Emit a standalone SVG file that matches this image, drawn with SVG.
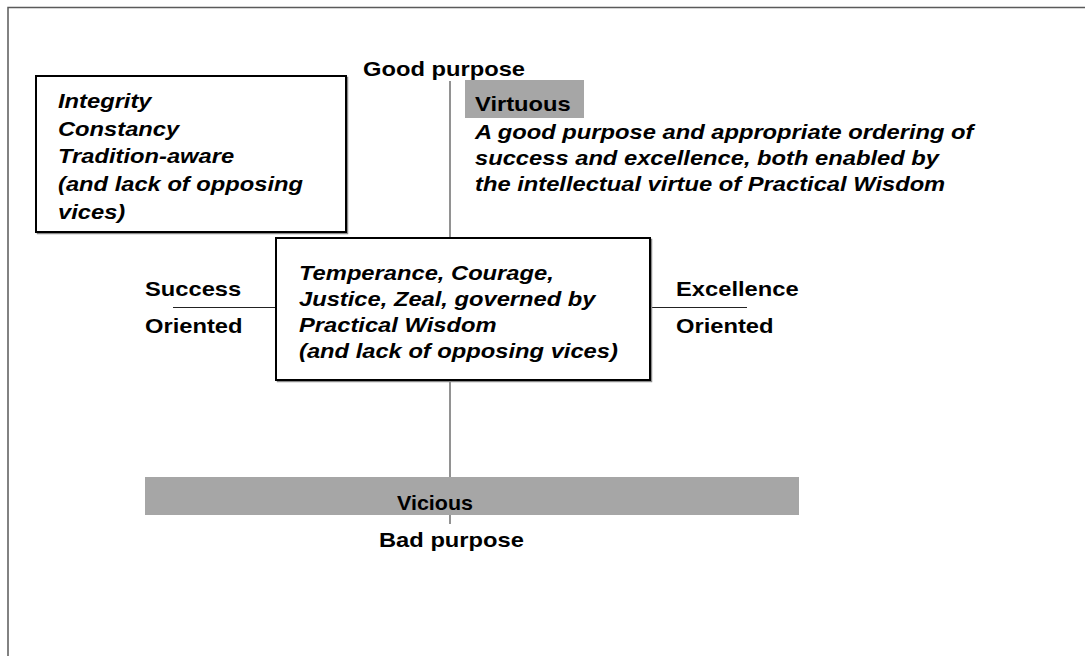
<svg xmlns="http://www.w3.org/2000/svg" width="1085" height="656" viewBox="0 0 1085 656">
  <style>
    text { font-family: "Liberation Sans", Arial, sans-serif; font-weight: bold; font-size: 21px; fill: #000; }
    .it { font-style: italic; }
    .box { fill: #fff; stroke: #000; stroke-width: 2; }
    .shadow { fill: none; stroke: #8a8a8a; stroke-width: 1.5; }
    .band { fill: #a6a6a6; stroke: none; }
    .axis { stroke: #6e6e6e; stroke-width: 1.5; fill: none; }
    .tick { stroke: #222; stroke-width: 1.2; fill: none; }
  </style>
  <rect width="1085" height="656" fill="#fff"/>
  <rect id="frame" x="8" y="7.5" width="1100" height="680" fill="none" stroke="#5a5a5a" stroke-width="1.5"/>

  <g id="connectors">
    <line class="axis" x1="450" y1="81" x2="450" y2="238"/>
    <line class="axis" x1="450" y1="380" x2="450" y2="477"/>
    <line class="axis" x1="450" y1="515" x2="450" y2="524"/>
    <line class="tick" x1="173" y1="307.5" x2="276" y2="307.5"/>
    <line class="tick" x1="650" y1="307.5" x2="747" y2="307.5"/>
  </g>

  <g id="good-purpose">
    <text transform="matrix(1.13 0 0 1 363 76)">Good purpose</text>
  </g>

  <g id="traits-box">
    <rect class="shadow" x="37.5" y="77.5" width="310" height="156"/>
    <rect class="box" x="36" y="76" width="310" height="156"/>
    <text class="it" transform="matrix(1.13 0 0 1 58 108)">Integrity</text>
    <text class="it" transform="matrix(1.13 0 0 1 58 135.7)">Constancy</text>
    <text class="it" transform="matrix(1.13 0 0 1 58 163.4)">Tradition-aware</text>
    <text class="it" transform="matrix(1.13 0 0 1 58 191)">(and lack of opposing</text>
    <text class="it" transform="matrix(1.13 0 0 1 58 218.7)">vices)</text>
  </g>

  <g id="virtuous">
    <rect class="band" x="465" y="80" width="119" height="38"/>
    <text transform="matrix(1.13 0 0 1 475 111)">Virtuous</text>
    <text class="it" transform="matrix(1.13 0 0 1 475 139)">A good purpose and appropriate ordering of</text>
    <text class="it" transform="matrix(1.13 0 0 1 475 165)">success and excellence, both enabled by</text>
    <text class="it" transform="matrix(1.13 0 0 1 475 191)">the intellectual virtue of Practical Wisdom</text>
  </g>

  <g id="center-box">
    <rect class="shadow" x="277.5" y="239.5" width="374" height="142"/>
    <rect class="box" x="276" y="238" width="374" height="142"/>
    <text class="it" transform="matrix(1.13 0 0 1 299 279.5)">Temperance, Courage,</text>
    <text class="it" transform="matrix(1.13 0 0 1 299 305.8)">Justice, Zeal, governed by</text>
    <text class="it" transform="matrix(1.13 0 0 1 299 332.1)">Practical Wisdom</text>
    <text class="it" transform="matrix(1.13 0 0 1 299 358.4)">(and lack of opposing vices)</text>
  </g>

  <g id="success">
    <text transform="matrix(1.13 0 0 1 145 296)">Success</text>
    <text transform="matrix(1.13 0 0 1 145 333)">Oriented</text>
  </g>

  <g id="excellence">
    <text transform="matrix(1.13 0 0 1 676 296)">Excellence</text>
    <text transform="matrix(1.13 0 0 1 676 333)">Oriented</text>
  </g>

  <g id="vicious">
    <rect class="band" x="145" y="477" width="654" height="38"/>
    <text x="435" y="510" text-anchor="middle" textLength="76" lengthAdjust="spacingAndGlyphs">Vicious</text>
  </g>

  <g id="bad-purpose">
    <text transform="matrix(1.13 0 0 1 379 547)">Bad purpose</text>
  </g>
</svg>
